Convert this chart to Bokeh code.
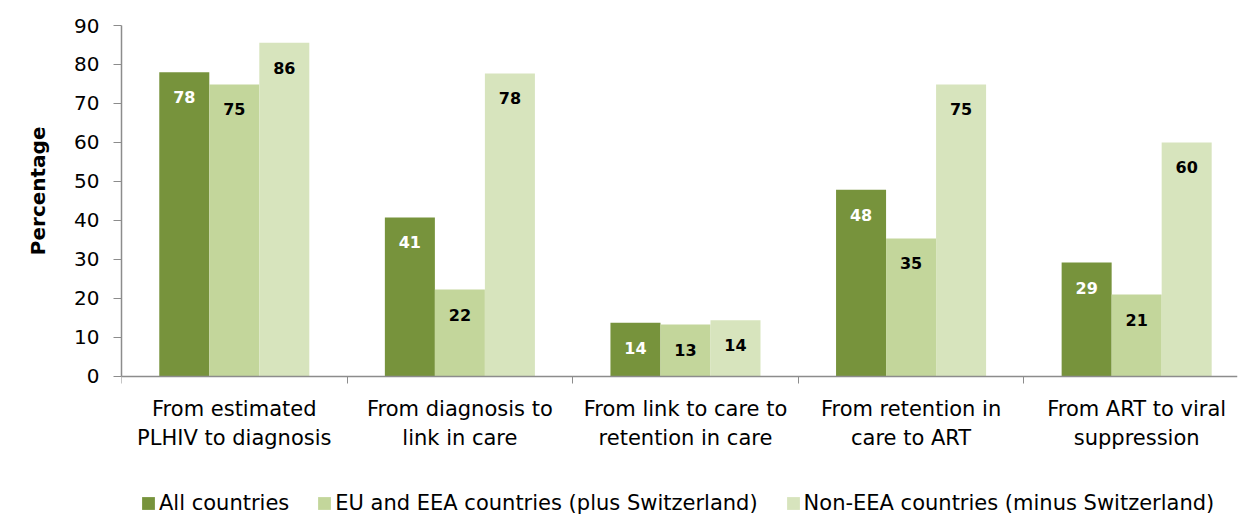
from bokeh.plotting import figure
from bokeh.models import (ColumnDataSource, FixedTicker, Range1d, Legend, LegendItem, LabelSet, Title)
from bokeh.core.properties import value
from bokeh.embed import file_html
from bokeh.resources import INLINE

categories = ["From estimated\nPLHIV to diagnosis", "From diagnosis to\nlink in care",
              "From link to care to\nretention in care", "From retention in\ncare to ART",
              "From ART to viral\nsuppression"]
series_names = ["All countries", "EU and EEA countries (plus Switzerland)",
                "Non-EEA countries (minus Switzerland)"]
all_countries = [78.0, 40.8, 13.8, 47.9, 29.2]
eu_eea = [74.9, 22.3, 13.3, 35.4, 21.0]
non_eea = [85.6, 77.7, 14.4, 74.9, 60.0]
y_ticks = [0, 10, 20, 30, 40, 50, 60, 70, 80, 90]
y_title = "Percentage"

colors = ["#77933C", "#C3D69B", "#D7E4BD"]
label_colors = ["#FFFFFF", "#000000", "#000000"]
FONT = "DejaVu Sans"

# frame spans the whole height below the top border; value 0 sits 140 px above the bottom
p = figure(width=1239, height=516, output_backend="svg", toolbar_location=None,
           x_range=Range1d(0.5, 5.447), y_range=Range1d(-35.9, 90),
           min_border_left=121, min_border_top=25, min_border_right=2, min_border_bottom=0)
p.outline_line_color = None
p.grid.grid_line_color = None
p.background_fill_color = "white"
p.border_fill_color = "white"

bw = 0.2217
offsets = [-bw, 0.0, bw]
renderers = []
for vals, off, col, lc in zip([all_countries, eu_eea, non_eea], offsets, colors, label_colors):
    xs = [i + 1 + off for i in range(len(vals))]
    src = ColumnDataSource(dict(x=xs, top=vals, lab=[str(int(round(v))) for v in vals]))
    r = p.vbar(x="x", top="top", bottom=0, width=bw, source=src, fill_color=col, line_color=None)
    renderers.append(r)
    lbl = LabelSet(x="x", y="top", text="lab", source=src, y_offset=-25,
                   text_align="center", text_baseline="middle",
                   text_font=value(FONT), text_font_size="16px", text_font_style="bold",
                   text_color=lc)
    p.add_layout(lbl)

# x axis, drawn at value 0
xa = p.xaxis[0]
xa.fixed_location = 0
xa.ticker = FixedTicker(ticks=[1, 2, 3, 4, 5], minor_ticks=[0.5, 1.5, 2.5, 3.5, 4.5, 5.5])
xa.major_label_overrides = {i + 1: c for i, c in enumerate(categories)}
xa.major_tick_out = 0
xa.major_tick_in = 0
xa.minor_tick_out = 7
xa.minor_tick_in = 0
xa.minor_tick_line_color = "#8C8C8C"
xa.axis_line_color = "#8C8C8C"
xa.axis_line_width = 1.5
xa.major_label_standoff = 14
xa.major_label_text_font = FONT
xa.major_label_text_font_size = "21px"
xa.major_label_text_color = "#000000"
xa.major_label_text_line_height = 1.2

# y axis
ya = p.yaxis[0]
ya.bounds = (0, 90)
ya.ticker = FixedTicker(ticks=y_ticks, minor_ticks=[])
ya.major_tick_out = 8
ya.major_tick_in = 0
ya.major_tick_line_color = "#8C8C8C"
ya.axis_line_color = "#8C8C8C"
ya.axis_line_width = 1.5
ya.major_label_standoff = 14
ya.major_label_text_font = FONT
ya.major_label_text_font_size = "20px"
ya.major_label_text_color = "#000000"

# y axis title as a side-panel title, shifted to sit by the 0..90 span
ytitle = Title(text=y_title, align="right", offset=101, standoff=44,
               text_font=FONT, text_font_size="20px", text_font_style="bold",
               text_color="#000000")
p.add_layout(ytitle, "left")

legend = Legend(items=[LegendItem(label=n, renderers=[r]) for n, r in zip(series_names, renderers)],
                orientation="horizontal", location=(19, 1),
                label_text_font=FONT, label_text_font_size="21px", label_text_color="#000000",
                glyph_width=16, glyph_height=16, spacing=27, label_standoff=3,
                border_line_color=None, background_fill_alpha=0, padding=0, margin=0)
p.add_layout(legend)

open("out.html", "w").write(file_html(p, INLINE))
